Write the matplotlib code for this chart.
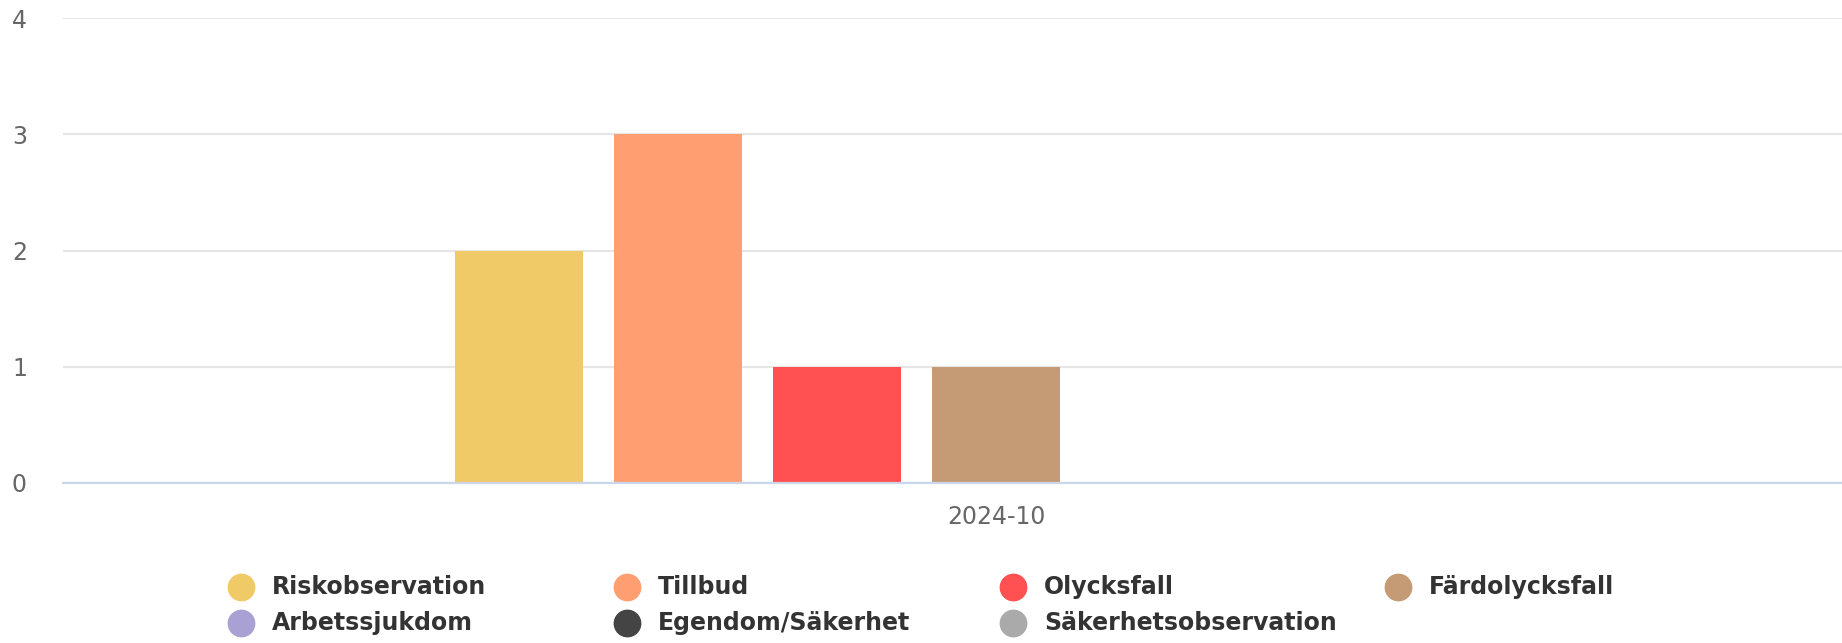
import matplotlib
matplotlib.use("Agg")
import matplotlib.pyplot as plt
from matplotlib.lines import Line2D

# data
categories = ["2024-10"]
series_names = [
    "Riskobservation",
    "Tillbud",
    "Olycksfall",
    "Färdolycksfall",
    "Arbetssjukdom",
    "Egendom/Säkerhet",
    "Säkerhetsobservation",
]
series_values = [
    [2],
    [3],
    [1],
    [1],
    [0],
    [0],
    [0],
]
series_colors = [
    "#EFCA67",
    "#FF9E71",
    "#FF5151",
    "#C49B74",
    "#A9A1D3",
    "#444444",
    "#AAAAAA",
]
y_ticks = [0, 1, 2, 3, 4]

W, H = 1842, 643
fig = plt.figure(figsize=(W / 100, H / 100), dpi=100)
ax = fig.add_axes([63 / W, (H - 483) / H, 1 - 63 / W, (483 - 18) / H])

n = len(series_names)
group = 0.6
slot = group / n
bar_w = slot * 0.8
for i, (name, vals, col) in enumerate(zip(series_names, series_values, series_colors)):
    xs = [c - group / 2 + slot * (i + 0.5) for c in range(len(categories))]
    ax.bar(xs, vals, width=bar_w, color=col, zorder=3, label=name)

ax.set_xlim(-0.503, 0.456)
ax.set_ylim(0, 4)
ax.set_yticks(y_ticks)
ax.set_xticks(range(len(categories)))
ax.set_xticklabels(categories)
ax.grid(axis="y", color="#e6e6e6", linewidth=1.6, zorder=0)
ax.tick_params(axis="both", length=0, labelcolor="#666666", labelsize=17)
ax.tick_params(axis="y", pad=26)
ax.tick_params(axis="x", pad=16)
for s in ["left", "right", "top"]:
    ax.spines[s].set_visible(False)
ax.spines["bottom"].set_color("#ccd6eb")
ax.spines["bottom"].set_linewidth(1.6)
ax.spines["bottom"].set_zorder(4)

# legend, 4 columns, row by row
col_x = [241, 627, 1013, 1398]
row_y = [587, 623]
for i, (name, col) in enumerate(zip(series_names, series_colors)):
    cx = col_x[i % 4]
    cy = row_y[i // 4]
    fig.add_artist(Line2D([cx / W], [1 - cy / H], marker="o", markersize=19,
                          color=col, linestyle="none", transform=fig.transFigure))
    fig.text((cx + 31) / W, 1 - cy / H, name, fontsize=17, fontweight="bold",
             color="#333333", va="center", ha="left")

fig.savefig("out.png", dpi=100)
